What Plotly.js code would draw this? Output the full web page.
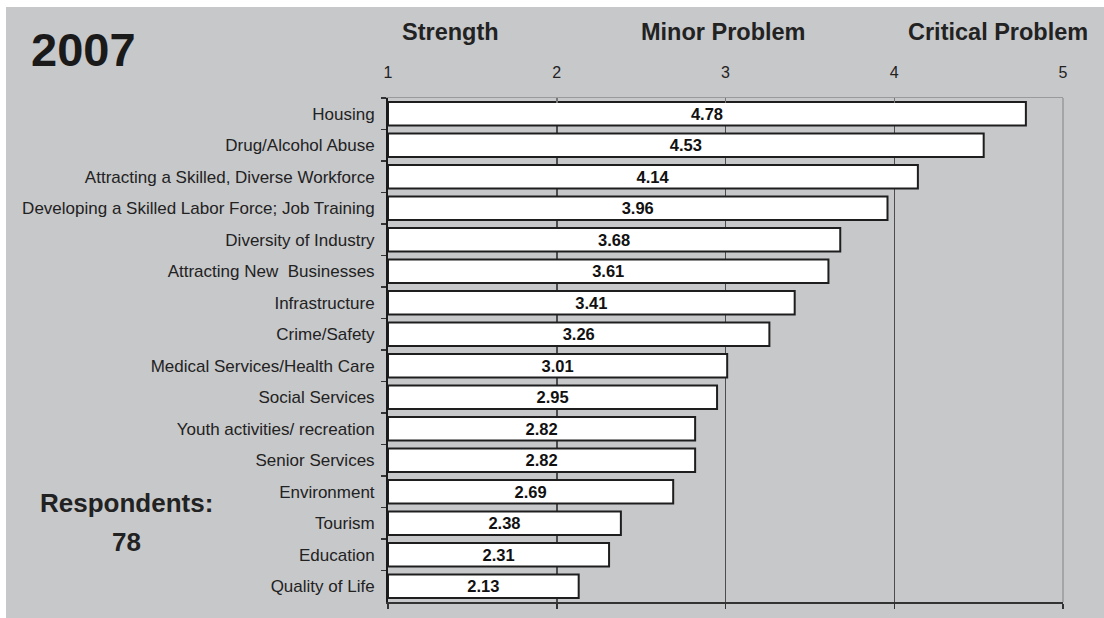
<!DOCTYPE html>
<html>
<head>
<meta charset="utf-8">
<script src="https://cdn.plot.ly/plotly-3.0.1.min.js"></script>
<style>
  html, body { margin: 0; padding: 0; background: #ffffff; }
  #chart { width: 1104px; height: 618px; }
</style>
</head>
<body>
<div id="chart"></div>
<script>
const categories = [
  "Housing",
  "Drug/Alcohol Abuse",
  "Attracting a Skilled, Diverse Workforce",
  "Developing a Skilled Labor Force; Job Training",
  "Diversity of Industry",
  "Attracting New  Businesses",
  "Infrastructure",
  "Crime/Safety",
  "Medical Services/Health Care",
  "Social Services",
  "Youth activities/ recreation",
  "Senior Services",
  "Environment",
  "Tourism",
  "Education",
  "Quality of Life"
];
const scores = [4.78, 4.53, 4.14, 3.96, 3.68, 3.61, 3.41, 3.26, 3.01, 2.95, 2.82, 2.82, 2.69, 2.38, 2.31, 2.13];
const scaleTicks = [1, 2, 3, 4, 5];
const gridTicks = [2, 3, 4];
const scaleHeaders = ["Strength", "Minor Problem", "Critical Problem"];
const yearLabel = "2007";
const respondentsLabel = "Respondents:";
const respondentsCount = "78";

const FONT = "'Liberation Sans', Arial, Helvetica, sans-serif";
const BG = "rgb(199,200,202)";
const scaleMin = scaleTicks[0];

const barTrace = {
  type: "bar",
  orientation: "h",
  y: categories,
  x: scores.map(v => v - scaleMin),
  base: scaleMin,
  width: 0.74,
  marker: { color: "#ffffff", line: { color: "#1e1e1e", width: 2 } },
  text: scores.map(v => v.toFixed(2)),
  textposition: "inside",
  insidetextanchor: "middle",
  textangle: 0,
  constraintext: "none",
  textfont: { family: FONT, size: 16.5, color: "#111111", weight: "bold" },
  hoverinfo: "skip",
  cliponaxis: false,
  showlegend: false
};

const headerX = [0.0933, 0.4963, 0.903];

const annotations = scaleHeaders.map((h, i) => ({
  text: "<b>" + h + "</b>",
  xref: "paper", yref: "paper",
  x: headerX[i], y: 1.131,
  xanchor: "center", yanchor: "middle",
  showarrow: false,
  font: { family: FONT, size: 23.5, color: "#222222" }
}));
annotations.push({
  text: "<b>" + yearLabel + "</b>",
  xref: "paper", yref: "paper",
  x: -0.4504, y: 1.097,
  xanchor: "center", yanchor: "middle",
  showarrow: false,
  font: { family: FONT, size: 47, color: "#1a1a1a" }
});
annotations.push({
  text: "<b>" + respondentsLabel + "</b>",
  xref: "paper", yref: "paper",
  x: -0.388, y: 0.1964,
  xanchor: "center", yanchor: "middle",
  showarrow: false,
  font: { family: FONT, size: 26, color: "#222222" }
});
annotations.push({
  text: "<b>" + respondentsCount + "</b>",
  xref: "paper", yref: "paper",
  x: -0.388, y: 0.119,
  xanchor: "center", yanchor: "middle",
  showarrow: false,
  font: { family: FONT, size: 26, color: "#222222" }
});

const layout = {
  width: 1104,
  height: 618,
  margin: { l: 388, r: 41, t: 98, b: 16, pad: 0 },
  paper_bgcolor: BG,
  plot_bgcolor: BG,
  font: { family: FONT, color: "#222222" },
  xaxis: {
    range: [1, 5],
    tickvals: scaleTicks,
    showticklabels: false,
    ticks: "outside",
    ticklen: 5,
    tickwidth: 1.5,
    tickcolor: "#333333",
    showline: true,
    linecolor: "#333333",
    linewidth: 2,
    showgrid: false,
    zeroline: false,
    fixedrange: true
  },
  xaxis2: {
    overlaying: "x",
    anchor: "y",
    side: "top",
    range: [1, 5],
    tickvals: scaleTicks,
    ticktext: scaleTicks.map(String),
    ticks: "inside",
    ticklen: 5,
    tickwidth: 1.5,
    tickcolor: "#777777",
    ticklabelstandoff: 12,
    tickfont: { family: FONT, size: 16, color: "#222222" },
    showline: true,
    linecolor: "#9a9a9a",
    linewidth: 1.5,
    showgrid: false,
    zeroline: false,
    fixedrange: true
  },
  xaxis3: {
    overlaying: "x",
    anchor: "y",
    side: "bottom",
    range: [1, 5],
    tickvals: gridTicks,
    showticklabels: false,
    ticks: "",
    showline: false,
    showgrid: true,
    gridcolor: "#4d4d4d",
    gridwidth: 1.5,
    zeroline: false,
    fixedrange: true
  },
  yaxis: {
    type: "category",
    autorange: "reversed",
    tickson: "boundaries",
    ticks: "outside",
    ticklen: 5,
    tickwidth: 1.5,
    tickcolor: "#333333",
    ticklabelstandoff: 8,
    tickfont: { family: FONT, size: 17, color: "#222222" },
    showline: true,
    linecolor: "#1a1a1a",
    linewidth: 2,
    showgrid: false,
    zeroline: false,
    fixedrange: true
  },
  shapes: [
    // white strips along the top and left edges of the page
    { type: "rect", xref: "paper", yref: "paper", x0: -0.5748, x1: 1.0608, y0: 1.1806, y1: 1.1945, fillcolor: "#ffffff", line: { width: 0 }, layer: "below" },
    { type: "rect", xref: "paper", yref: "paper", x0: -0.5748, x1: -0.5659, y0: -0.0317, y1: 1.1945, fillcolor: "#ffffff", line: { width: 0 }, layer: "below" },
    // right frame edge of the plot area
    { type: "line", xref: "paper", yref: "paper", x0: 1, x1: 1, y0: 0, y1: 1, line: { color: "#9a9a9a", width: 1.5 }, layer: "above" }
  ],
  annotations: annotations
};

const gridTrace = { type: "bar", orientation: "h", x: [], y: [], xaxis: "x3", yaxis: "y", hoverinfo: "skip", showlegend: false };
const topTrace = { type: "bar", orientation: "h", x: [], y: [], xaxis: "x2", yaxis: "y", hoverinfo: "skip", showlegend: false };

Plotly.newPlot("chart", [gridTrace, topTrace, barTrace], layout, { staticPlot: true, displayModeBar: false });
</script>
</body>
</html>
